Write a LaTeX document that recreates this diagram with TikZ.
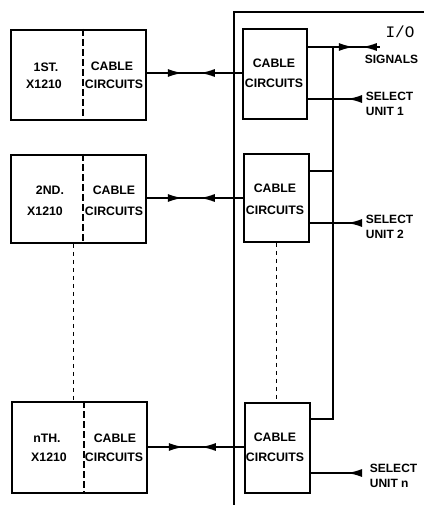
\documentclass[tikz,border=0pt]{standalone}
\usepackage{fontspec}
\setmainfont{Liberation Sans}
\newfontfamily\iofont{Liberation Mono}
\usetikzlibrary{arrows.meta,decorations.markings}
\begin{document}
\begin{tikzpicture}[x=1pt,y=-1pt,line width=1.8pt,
  box/.style={draw,line width=1.8pt,inner sep=0pt,anchor=north west},
  lbl/.style={font=\fontsize{12.3}{14}\selectfont\bfseries,inner sep=0pt,align=center},
  rlbl/.style={font=\fontsize{12}{15.5}\selectfont\bfseries,inner sep=0pt,align=left,anchor=west},
  divider/.style={line width=1.1pt,dash pattern=on 7pt off 3pt},
  gapline/.style={line width=1pt,dash pattern=on 4pt off 4pt},
  twoway/.style={postaction={decorate},decoration={markings,
      mark=at position 36pt with {\arrow{Latex[length=15pt,width=8pt]}},
      mark=at position 53pt with {\arrowreversed{Latex[length=15pt,width=8pt]}}}},
  sigway/.style={postaction={decorate},decoration={markings,
      mark=at position 46pt with {\arrow{Latex[length=15pt,width=8pt]}},
      mark=at position 54pt with {\arrowreversed{Latex[length=15pt,width=8pt]}}}},
  selway/.style={postaction={decorate},decoration={markings,
      mark=at position 12pt with {\arrow{Latex[length=15pt,width=8pt]}}}}
]
\useasboundingbox (0,0) rectangle (424,505);

% I/O frame
\coordinate (ioBL) at (234,505);
\coordinate (ioTL) at (234,12);
\coordinate (ioTR) at (424,12);
\draw (ioBL) -- (ioTL) -- (ioTR);

% left boxes
\node[box,minimum width=135pt,minimum height=90pt] (L1) at (10,29) {};
\node[box,minimum width=135pt,minimum height=88pt] (L2) at (10,154) {};
\node[box,minimum width=135pt,minimum height=91pt] (Ln) at (11,401) {};
\draw[divider] (83,0 |- L1.north) -- (83,0 |- L1.south);
\draw[divider] (83,0 |- L2.north) -- (83,0 |- L2.south);
\draw[divider] (84,0 |- Ln.north) -- (84,0 |- Ln.south);

% right boxes
\node[box,minimum width=64pt,minimum height=90pt] (R1) at (242,28) {};
\node[box,minimum width=65pt,minimum height=88pt] (R2) at (243,153) {};
\node[box,minimum width=65pt,minimum height=90pt] (Rn) at (244,402) {};

% dashed gaps
\draw[gapline] (L2.south -| 73,0) -- (Ln.north -| 73,0);
\draw[gapline] (R2.south -| 276,0) -- (Rn.north -| 276,0);

% left texts
\node[lbl] (t1a) at (46,67) {1ST.};
\node[lbl] (t1b) at (44,84) {X1210};
\node[lbl] (t1c) at (112,66) {CABLE};
\node[lbl] (t1d) at (114,84) {CIRCUITS};
\node[lbl] (t2a) at (50,190) {2ND.};
\node[lbl] (t2b) at (45,211) {X1210};
\node[lbl] (t2c) at (114,190) {CABLE};
\node[lbl] (t2d) at (114,211) {CIRCUITS};
\node[lbl] (tna) at (47,438) {nTH.};
\node[lbl] (tnb) at (49,457) {X1210};
\node[lbl] (tnc) at (115,438) {CABLE};
\node[lbl] (tnd) at (114,457) {CIRCUITS};

% right box texts
\node[lbl] (r1a) at (274,63) {CABLE};
\node[lbl] (r1b) at (274,83) {CIRCUITS};
\node[lbl] (r2a) at (275,188) {CABLE};
\node[lbl] (r2b) at (275,210) {CIRCUITS};
\node[lbl] (rna) at (275,437) {CABLE};
\node[lbl] (rnb) at (275,457) {CIRCUITS};

% cable links
\draw[twoway] (L1.east |- 0,73) -- (R1.west |- 0,73);
\draw[twoway] (L2.east |- 0,198) -- (R2.west |- 0,198);
\draw[twoway] (Ln.east |- 0,447) -- (Rn.west |- 0,447);

% signals bus
\coordinate (sigEnd) at (380,47);
\coordinate (busTop) at (333,47);
\coordinate (busBot) at (333,419);
\draw[sigway] (R1.east |- sigEnd) -- (sigEnd);
\draw (busTop) -- (busBot) -- (Rn.east |- busBot);
\draw (R2.east |- 0,171) -- (333,171);

% select lines
\coordinate (sel1) at (359,99);
\coordinate (sel2) at (359,223);
\coordinate (seln) at (359,473);
\draw[selway] (sel1) -- (R1.east |- sel1);
\draw[selway] (sel2) -- (R2.east |- sel2);
\draw[selway] (seln) -- (Rn.east |- seln);

% right labels
\node[font=\iofont\fontsize{16}{18}\selectfont,inner sep=0pt] (io) at (400,32) {I/O};
\node[rlbl] (sig) at (364,59) {SIGNALS};
\node[rlbl] (s1) at (365,104) {SELECT\\UNIT 1};
\node[rlbl] (s2) at (365,227) {SELECT\\UNIT 2};
\node[rlbl] (sn) at (369,476) {SELECT\\UNIT n};
\end{tikzpicture}
\end{document}
